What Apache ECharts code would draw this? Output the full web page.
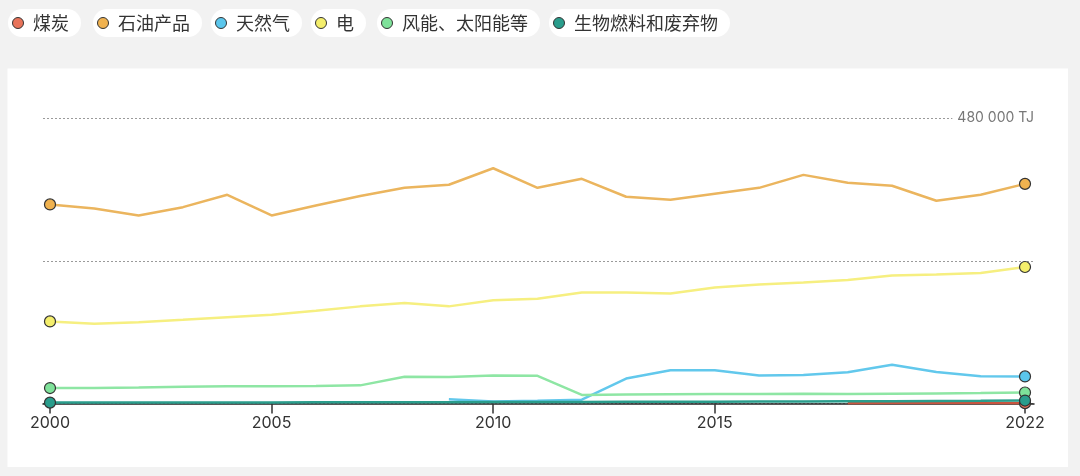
<!DOCTYPE html>
<html>
<head>
<meta charset="utf-8">
<script src="https://cdn.jsdelivr.net/npm/echarts@6/dist/echarts.min.js"></script>
<style>
html,body{margin:0;padding:0;background:#f2f2f2;}
#chart{width:1080px;height:476px;}
</style>
</head>
<body>
<div id="chart"></div>
<script>
const years = [2000,2001,2002,2003,2004,2005,2006,2007,2008,2009,2010,2011,2012,2013,2014,2015,2016,2017,2018,2019,2020,2021,2022];
const seriesNames = ['煤炭','石油产品','天然气','电','风能、太阳能等','生物燃料和废弃物'];
const coal = [null,null,null,null,null,null,null,null,null,null,null,null,null,null,null,null,null,null,600,700,700,800,600];
const oil = [334700,328000,316100,330100,350900,316100,333000,348700,362800,367800,395500,362600,377700,347600,342600,352600,362600,384400,371000,366000,340900,350900,369300];
const gas = [null,null,null,null,null,null,null,null,null,7000,3500,4500,6500,42000,56000,56000,47000,48000,52500,65000,53000,46000,45500];
const elec = [138000,134000,136800,140700,145200,149200,155900,163300,168800,163300,173400,176000,186800,186800,185100,195100,200200,203500,207700,215200,216900,219400,229500];
const wind = [26000,26200,27000,28000,29000,29200,29500,30500,45000,44500,47000,46500,14500,15000,15500,15800,16000,16200,16000,16500,17000,17500,18500];
const bio = [1500,1600,1500,1700,1800,1800,2000,2100,2300,2200,2400,2500,2600,2800,2900,3100,3300,3400,3700,3900,4200,4500,5000];
const xTickLabels = [2000,2005,2010,2015,2022];
const yTopLabel = '480 000 TJ';

const markerColors = ['#e8735a','#f0b24f','#5bc6ec','#f4ee6c','#7fe29a','#2a9d8c'];
const lineColors = ['#c9553f','#ebb55e','#62c8ec','#f6ef80','#8ee6a4','#2a9d8c'];
const allValues = [coal, oil, gas, elec, wind, bio];
const legendLefts = [8, 93, 211, 311, 377, 549];
const FONT = "Inter, 'Noto Sans CJK SC', 'Noto Sans', sans-serif";
const CJK = "'Noto Sans CJK SC', 'Noto Sans', sans-serif";

const chart = echarts.init(document.getElementById('chart'), null, {renderer:'canvas'});

const legends = seriesNames.map((n, i) => ({
  show: true,
  data: [n],
  left: legendLefts[i],
  top: 9,
  backgroundColor: '#fff',
  borderRadius: 14,
  padding: [5, 12, 5, 4],
  itemWidth: 20,
  itemHeight: 11,
  icon: 'circle',
  selectedMode: false,
  itemStyle: {borderColor: '#333', borderWidth: 1},
  textStyle: {fontSize: 18, color: '#333', fontFamily: CJK, lineHeight: 18}
}));

const series = seriesNames.map((n, i) => ({
  type: 'line',
  name: n,
  data: years.map((y, k) => [y, allValues[i][k]]).filter(d => d[1] != null),
  symbol: (v) => (v[0] === 2000 || v[0] === 2022) ? 'circle' : 'none',
  symbolSize: 11,
  showSymbol: true,
  showAllSymbol: true,
  lineStyle: {width: 2.5, color: lineColors[i]},
  itemStyle: {color: markerColors[i], borderColor: '#333', borderWidth: 1.2},
  emphasis: {disabled: true},
  z: 3 + i
}));

chart.setOption({
  animation: false,
  backgroundColor: '#f2f2f2',
  graphic: [{
    type: 'rect',
    z: -10,
    silent: true,
    shape: {x: 7.5, y: 68.5, width: 1060.5, height: 398.5},
    style: {fill: '#fff'}
  }],
  legend: legends,
  grid: {left: 43, right: 46, top: 118, bottom: 72.5},
  xAxis: {
    type: 'value',
    min: 1999.842,
    max: 2022.203,
    splitLine: {show: false},
    axisLine: {show: true, onZero: true, lineStyle: {color: '#222', width: 1.5}},
    axisTick: {show: true, customValues: xTickLabels, length: 10, lineStyle: {color: '#333', width: 1.5}},
    axisLabel: {customValues: xTickLabels, formatter: v => String(v), margin: 12, fontSize: 16, color: '#333', fontFamily: FONT}
  },
  yAxis: {
    type: 'value',
    position: 'right',
    min: 0,
    max: 480000,
    interval: 240000,
    axisLine: {show: false},
    axisTick: {show: false},
    splitLine: {show: true, lineStyle: {color: '#9a9a9a', width: 1, type: [2, 2]}},
    axisLabel: {
      inside: true,
      customValues: [480000],
      formatter: () => yTopLabel,
      margin: 0,
      fontSize: 14,
      color: '#777',
      fontFamily: FONT,
      backgroundColor: '#fff',
      padding: [2, 0, 2, 5]
    }
  },
  series: series
});
</script>
</body>
</html>
